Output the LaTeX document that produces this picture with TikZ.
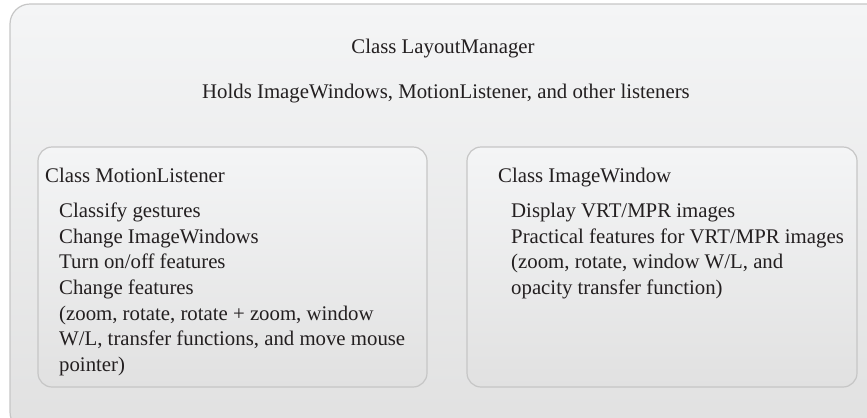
\documentclass[tikz,border=0pt]{standalone}
\usepackage{fontspec}
\setmainfont{Liberation Serif}
\definecolor{topc}{HTML}{F4F5F6}
\definecolor{botc}{HTML}{E1E1E1}
\definecolor{edgec}{HTML}{C6C6C6}
\definecolor{txt}{HTML}{231F20}
\tikzset{
  panel/.style={draw=edgec, line width=1.2bp, top color=topc, bottom color=botc},
  label/.style={inner sep=0pt, text=txt, font=\fontsize{20.8bp}{25.6bp}\selectfont},
  body/.style={label, align=left, anchor=north west}
}
\begin{document}
\begin{tikzpicture}[x=1bp,y=-1bp]
\useasboundingbox (0,0) rectangle (867,417);
\clip (0,0) rectangle (867,417);
\path[panel, rounded corners=20bp] (10,4) rectangle (890,432);
\path[panel, rounded corners=14bp] (38,147) rectangle (427,387);
\path[panel, rounded corners=14bp] (467,147) rectangle (857,387);
\node[label, anchor=base] (title) at (443,53) {Class LayoutManager};
\node[label, anchor=base] (holds) at (446,98) {Holds ImageWindows, MotionListener, and other listeners};
\node[label, anchor=base west] (ml) at (45,182) {Class MotionListener};
\node[body] (mlbody) at (59,202.8) {Classify gestures\\Change ImageWindows\\Turn on/off features\\Change features\\(zoom, rotate, rotate + zoom, window\\W/L, transfer functions, and move mouse\\pointer)};
\node[label, anchor=base west] (iw) at (498,182) {Class ImageWindow};
\node[body] (iwbody) at (511,202.8) {Display VRT/MPR images\\Practical features for VRT/MPR images\\(zoom, rotate, window W/L, and\\opacity transfer function)};
\end{tikzpicture}
\end{document}
